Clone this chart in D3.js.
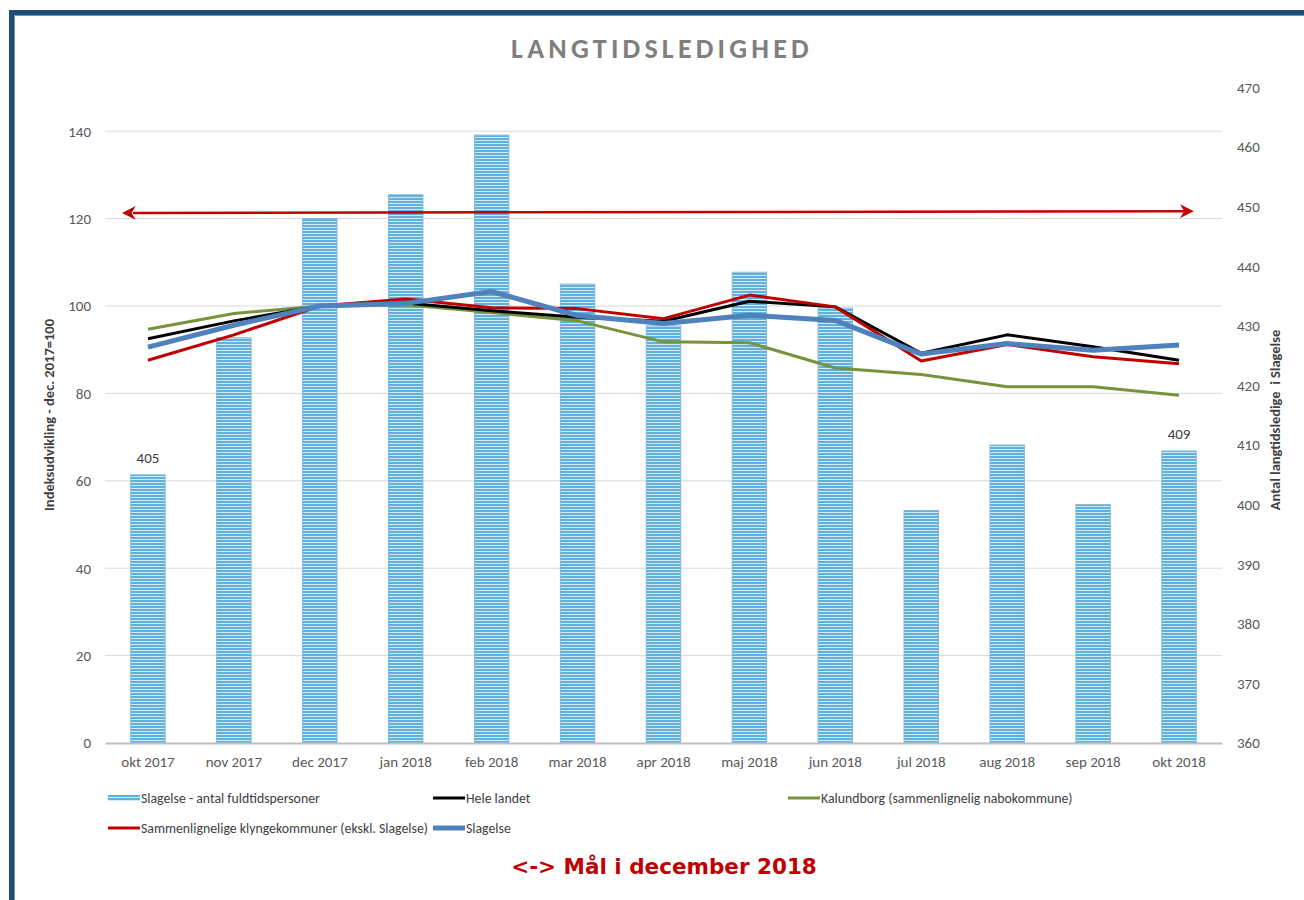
<!DOCTYPE html>
<html>
<head>
<meta charset="utf-8">
<script src="https://cdn.jsdelivr.net/npm/d3@7"></script>
<style>
  body { margin: 0; background: #fff; }
  .chart text { font-family: Carlito, "Liberation Sans Narrow", "Open Sans", sans-serif; }
  .tick text { fill: #595959; font-size: 15px; }
  .legend text { fill: #404040; font-size: 13.8px; }
</style>
</head>
<body>
<div class="chart"></div>
<script>
var months = ["okt 2017", "nov 2017", "dec 2017", "jan 2018", "feb 2018", "mar 2018", "apr 2018",
              "maj 2018", "jun 2018", "jul 2018", "aug 2018", "sep 2018", "okt 2018"];

// bars, right axis
var antalSlagelse = [405, 428, 448, 452, 462, 437, 430, 439, 433, 399, 410, 400, 409];

// index lines, left axis (dec. 2017 = 100)
var heleLandet = [92.5, 96.6, 100, 100.7, 98.9, 97.4, 96.5, 101.1, 99.8, 89.2, 93.4, 90.7, 87.6];
var klyngekommuner = [87.6, 93.4, 100, 101.6, 99.6, 99.4, 97.1, 102.5, 99.8, 87.4, 91.2, 88.4, 86.8];
var kalundborg = [94.7, 98.3, 100, 100.3, 98.5, 96.6, 91.8, 91.6, 85.8, 84.3, 81.5, 81.5, 79.6];
var slagelse = [90.6, 95.6, 100, 100.6, 103.3, 97.8, 96.0, 97.9, 96.7, 89.0, 91.4, 89.9, 91.1];

// target arrow (start, end)
var maal = [121.3, 121.7];

var leftTicks = [0, 20, 40, 60, 80, 100, 120, 140];
var rightTicks = [360, 370, 380, 390, 400, 410, 420, 430, 440, 450, 460, 470];
var labelled = [0, 12];

var width = 1304, height = 900;
var plot = { left: 105, right: 1222, top: 87.5, bottom: 743 };

var svg = d3.select(".chart").append("svg")
  .attr("width", width)
  .attr("height", height);

var defs = svg.append("defs");
var pat = defs.append("pattern")
  .attr("id", "stripes")
  .attr("patternUnits", "userSpaceOnUse")
  .attr("width", 6).attr("height", 3);
pat.append("rect").attr("width", 6).attr("height", 3).attr("fill", "#d0ebf7");
pat.append("rect").attr("width", 6).attr("height", 2).attr("fill", "#5fb0da");

["left", "right"].forEach(function(side) {
  defs.append("marker")
    .attr("id", "arrow-" + side)
    .attr("viewBox", "0 0 10 10")
    .attr("refX", side == "left" ? 2 : 8).attr("refY", 5)
    .attr("markerWidth", 5.5).attr("markerHeight", 5.5)
    .attr("orient", "auto-start-reverse")
    .append("path")
      .attr("d", "M0,0 L10,5 L0,10 L3,5 Z")
      .attr("fill", "#c00000");
});

// frame
svg.append("path")
  .attr("d", "M11.5,900 L11.5,12.5 L1304,12.5")
  .attr("fill", "none")
  .attr("stroke", "#1f4e79")
  .attr("stroke-width", 5);
svg.append("path")
  .attr("d", "M14.5,900 L14.5,15.5 L1304,15.5")
  .attr("fill", "none")
  .attr("stroke", "#6f93b8")
  .attr("stroke-width", 1);

svg.append("text")
  .attr("x", 662).attr("y", 58)
  .attr("text-anchor", "middle")
  .attr("fill", "#7f7f7f")
  .attr("font-size", 28)
  .attr("font-weight", "bold")
  .attr("letter-spacing", 4.2)
  .text("LANGTIDSLEDIGHED");

var x = d3.scaleBand()
  .domain(months)
  .range([plot.left, plot.right])
  .paddingInner(0.6)
  .paddingOuter(0.3);

var xc = function(d) { return x(d) + x.bandwidth() / 2; };

var yLeft = d3.scaleLinear().domain([0, 150]).range([plot.bottom, plot.top]);
var yRight = d3.scaleLinear().domain([360, 470]).range([plot.bottom, plot.top]);

// gridlines
svg.append("g")
  .selectAll("line")
  .data(leftTicks.slice(1))
  .enter().append("line")
    .attr("x1", plot.left).attr("x2", plot.right)
    .attr("y1", d => yLeft(d)).attr("y2", d => yLeft(d))
    .attr("stroke", "#d9d9d9")
    .attr("stroke-width", 1);

var leftAxis = svg.append("g")
  .attr("transform", "translate(" + (plot.left - 14) + ",0)")
  .call(d3.axisLeft(yLeft).tickValues(leftTicks).tickSize(0).tickPadding(0));
leftAxis.select(".domain").remove();

var rightAxis = svg.append("g")
  .attr("transform", "translate(" + (plot.right + 15) + ",0)")
  .call(d3.axisRight(yRight).tickValues(rightTicks).tickSize(0).tickPadding(0));
rightAxis.select(".domain").remove();

// bars
svg.append("g")
  .selectAll("rect")
  .data(antalSlagelse)
  .enter().append("rect")
    .attr("x", (d, i) => x(months[i]))
    .attr("y", d => yRight(d))
    .attr("width", x.bandwidth())
    .attr("height", d => yRight(360) - yRight(d))
    .attr("fill", "url(#stripes)")
    .attr("stroke", "#7fb6dc")
    .attr("stroke-width", 1);

svg.append("g")
  .selectAll("text")
  .data(labelled)
  .enter().append("text")
    .attr("x", i => xc(months[i]))
    .attr("y", i => yRight(antalSlagelse[i]) - 12)
    .attr("text-anchor", "middle")
    .attr("fill", "#404040")
    .attr("font-size", 15)
    .text(i => antalSlagelse[i]);

// x axis
var xAxis = svg.append("g")
  .attr("transform", "translate(0," + plot.bottom + ")")
  .call(d3.axisBottom(x).tickSize(0).tickPadding(13));
xAxis.select(".domain")
  .attr("stroke", "#bfbfbf")
  .attr("stroke-width", 2);

// target arrow
svg.append("line")
  .attr("x1", xc(months[0]) - 15).attr("x2", xc(months[12]) + 12)
  .attr("y1", yLeft(maal[0])).attr("y2", yLeft(maal[1]))
  .attr("stroke", "#c00000")
  .attr("stroke-width", 2.5)
  .attr("marker-start", "url(#arrow-left)")
  .attr("marker-end", "url(#arrow-right)");

var series = [
  { name: "Kalundborg (sammenlignelig nabokommune)", values: kalundborg, color: "#77933c", w: 3 },
  { name: "Hele landet", values: heleLandet, color: "#000000", w: 3 },
  { name: "Sammenlignelige klyngekommuner (ekskl. Slagelse)", values: klyngekommuner, color: "#c00000", w: 3 },
  { name: "Slagelse", values: slagelse, color: "#4f81bd", w: 5 }
];

var line = d3.line()
  .x((d, i) => xc(months[i]))
  .y(d => yLeft(d));

svg.append("g")
  .selectAll("path")
  .data(series)
  .enter().append("path")
    .attr("d", d => line(d.values))
    .attr("fill", "none")
    .attr("stroke", d => d.color)
    .attr("stroke-width", d => d.w)
    .attr("stroke-linejoin", "round");

// axis titles
svg.append("text")
  .attr("transform", "translate(54,415) rotate(-90)")
  .attr("text-anchor", "middle")
  .attr("fill", "#404040")
  .attr("font-size", 14.5)
  .attr("font-weight", "bold")
  .text("Indeksudvikling - dec. 2017=100");

svg.append("text")
  .attr("transform", "translate(1280,420) rotate(-90)")
  .attr("text-anchor", "middle")
  .attr("fill", "#404040")
  .attr("font-size", 14.5)
  .attr("font-weight", "bold")
  .attr("xml:space", "preserve")
  .text("Antal langtidsledige  i Slagelse");

// legend
var legendItems = [
  { name: "Slagelse - antal fuldtidspersoner", bar: true, x: 108, y: 798 },
  { name: series[1].name, color: series[1].color, w: 3, x: 433, y: 798 },
  { name: series[0].name, color: series[0].color, w: 3, x: 788, y: 798 },
  { name: series[2].name, color: series[2].color, w: 3, x: 108, y: 828 },
  { name: series[3].name, color: series[3].color, w: 5, x: 433, y: 828 }
];

var legend = svg.append("g").attr("class", "legend")
  .selectAll("g")
  .data(legendItems)
  .enter().append("g")
    .attr("transform", d => "translate(" + d.x + "," + d.y + ")");

legend.filter(d => d.bar).append("rect")
  .attr("x", 0).attr("y", -3)
  .attr("width", 32).attr("height", 6)
  .attr("fill", "url(#stripes)");

legend.filter(d => !d.bar).append("line")
  .attr("x1", 0).attr("x2", 32)
  .attr("stroke", d => d.color)
  .attr("stroke-width", d => d.w);

legend.append("text")
  .attr("x", 33).attr("dy", "0.35em")
  .text(d => d.name);

svg.append("text")
  .attr("x", 664).attr("y", 874)
  .attr("text-anchor", "middle")
  .attr("fill", "#c00000")
  .attr("font-size", 21.5)
  .attr("font-weight", "bold")
  .style("font-family", "'DejaVu Sans', sans-serif")
  .text("<-> Mål i december 2018");
</script>
</body>
</html>
